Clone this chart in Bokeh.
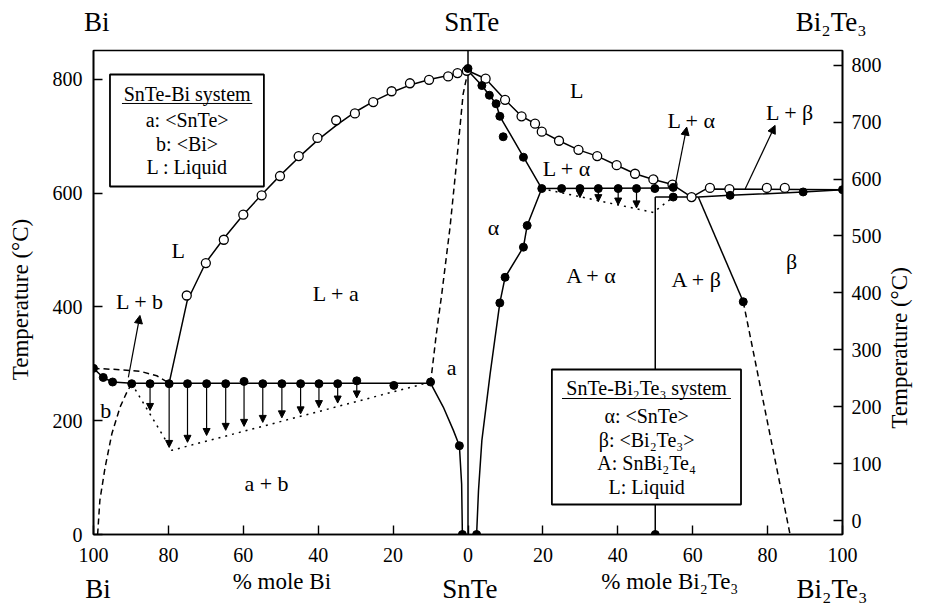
import numpy as np
from bokeh.plotting import figure
from bokeh.models import (Range1d, LinearAxis, FixedTicker, Arrow,
                          NormalHead, ColumnDataSource)
from bokeh.embed import file_html
from bokeh.resources import INLINE
from bokeh.core.properties import value

FONT = "Liberation Serif"

# x axis: negative side = % mole Bi (SnTe-Bi), positive side = % mole Bi2Te3
bottom_ticks = [-100, -80, -60, -40, -20, 0, 20, 40, 60, 80, 100]
bottom_tick_labels = ["100", "80", "60", "40", "20", "0", "20", "40", "60", "80", "100"]
left_ticks = [0, 200, 400, 600, 800]
right_ticks = [0, 100, 200, 300, 400, 500, 600, 700, 800]

# compound names and axis titles (placed along the composition axis)
top_names_x = [-99.1, 1.0, 97.0]
top_names = ["Bi", "SnTe", "Bi₂Te₃"]
bottom_names_x = [-98.8, 0.5, 97.2]
bottom_names = ["Bi", "SnTe", "Bi₂Te₃"]
axis_titles_x = [-49.7, 53.9]
axis_titles = ["% mole Bi", "% mole Bi₂Te₃"]
temp_title = "Temperature (°C)"

# ---------------- SnTe-Bi system ----------------
bi_liq_pts_x = [-75.1, -70.0, -65.2, -60.0, -55.1, -50.2, -45.2, -40.2, -35.2, -30.2,
                -25.3, -20.4, -15.5, -10.4, -5.3, -2.8, -0.3]
bi_liq_pts_y = [420, 477, 518, 562, 596, 630, 665, 697, 728, 740,
                760, 779, 793, 799, 805, 811, 815]
bi_liq_line_x = [-79.8, -75, -70, -65, -60, -55, -50, -45, -40, -35, -30, -25, -20, -15, -10, -5, 0]
bi_liq_line_y = [266, 410, 478, 522, 562, 598, 632, 664, 694, 720, 743, 762, 778, 791, 800, 807, 815]

bi_dots_x = [-100, -97.4, -94.9, -89.8, -84.9, -79.8, -74.9, -69.8, -64.7, -59.8, -54.8,
             -49.7, -44.7, -39.8, -34.8, -29.7, -19.8, -10.0, -2.3, -1.5, 0]
bi_dots_y = [292, 276, 268, 265, 265, 265, 265, 265, 265, 269, 265,
             265, 265, 265, 265, 270, 262, 268, 156, 0, 819]

bi_eut_x = [-100, -97.4, -94.9, -89.8, -10]
bi_eut_y = [292, 276, 268, 266, 266]
bi_liqb_x = [-100, -93.8, -87.6, -83.1, -79.8]
bi_liqb_y = [292, 290, 287, 279, 266]
bi_solb_x = [-98.9, -98.3, -96.9, -95.1, -92.9, -91.1, -89.8]
bi_solb_y = [0, 60, 118, 177, 224, 250, 265]
snte_sol_x = [-10, -8.5, -7.0, -4.8, -3.0, -1.3, 0]
snte_sol_y = [266, 350, 423, 540, 657, 774, 815]
snte_solv_x = [-10, -6.6, -3.9, -2.3, -1.7, -1.5]
snte_solv_y = [266, 224, 183, 156, 89, 0]
bi_dot_x = [-89.8, -79.1, -10]
bi_dot_y = [265, 148, 268]

bi_arr_x = [-84.9, -79.8, -74.9, -69.8, -64.7, -59.8, -54.8, -49.7, -44.7, -39.8, -34.8, -29.7]
bi_arr_top = [265, 265, 265, 265, 265, 265, 265, 265, 265, 265, 265, 265]
bi_arr_tip = [218, 153, 162, 174, 183, 190, 197, 205, 212, 223, 231, 240]

# ---------------- SnTe-Bi2Te3 system ----------------
bt_liq_x = [0, 4.7, 9.9, 14.3, 17.9, 19.7, 24.3, 29.5, 34.5, 39.7, 44.6, 49.5, 54.6, 59.7]
bt_liq_y = [815, 801, 764, 735, 722, 708, 692, 676, 665, 649, 634, 624, 615, 593]
bt_liqb_pts_x = [64.6, 69.8, 79.8, 84.6]
bt_liqb_pts_y = [609, 607, 609, 609]
bt_liqb_x = [59.7, 63.5, 100]
bt_liqb_y = [593, 607, 606]

bt_dots_x = [3.7, 5.7, 7.5, 8.5, 9.4, 14.8, 19.7, 25.0, 29.9, 34.8, 40.1, 45.0, 49.9, 54.8,
             54.8, 70.0, 89.5, 100, 15.8, 14.8, 9.9, 8.5, 2.3, 73.5, 50]
bt_dots_y = [789, 772, 757, 735, 699, 663, 608, 608, 608, 608, 608, 608, 608, 610,
             593, 596, 602, 606, 543, 505, 452, 407, 0, 409, 0]

bt_sol_x = [0, 3.7, 5.7, 7.5, 8.5, 19.7]
bt_sol_y = [815, 789, 772, 757, 735, 608]
bt_solv_x = [19.7, 15.8, 14.8, 9.9, 8.5, 5.9, 3.7, 2.8, 2.3]
bt_solv_y = [608, 543, 505, 452, 407, 282, 165, 77, 0]
bt_per_x = [19.7, 54.8]
bt_per_y = [608, 609]
bt_A_x = [50, 50]
bt_A_y = [0, 593]
bt_eut_x = [50, 61.5]
bt_eut_y = [593, 593]
bt_solb_x = [61.5, 70.0, 89.5, 100]
bt_solb_y = [593, 596, 602, 606]
bt_solvb_x = [61.5, 73.5]
bt_solvb_y = [593, 409]
bt_solvb_dash_x = [73.5, 86]
bt_solvb_dash_y = [409, 0]
bt_dot_x = [19.7, 49.5, 54.8]
bt_dot_y = [608, 566, 593]
bt_arr_x = [29.9, 34.8, 40.1, 45.0]
bt_arr_top = [608, 608, 608, 608]
bt_arr_tip = [592, 585, 579, 574]

snte_x = [0, 0]
snte_y = [0, 851]

# region labels
reg_text = ["L", "L + a", "L + b", "b", "a + b", "a",
            "L", "L + α", "L + α", "L + β", "α", "A + α", "A + β", "β"]
reg_x = [-77.4, -35.2, -87.6, -96.7, -53.8, -4.4,
         29.0, 26.4, 59.7, 86.0, 6.8, 33.0, 61.1, 86.4]
reg_y = [499, 423, 410, 218, 89, 294,
         780, 643, 728, 742, 540, 455, 449, 479]

# pointer arrows to labels
ptr_x0 = [-90.7, 55.3, 74.0]
ptr_y0 = [276, 613, 607]
ptr_x1 = [-87.6, 58.4, 82.0]
ptr_y1 = [385, 716, 719]

YMAX = 850.6

p = figure(output_backend="svg", toolbar_location=None,
           x_range=Range1d(-100, 100), y_range=Range1d(0, YMAX),
           min_border_left=93, min_border_right=83, min_border_top=50, min_border_bottom=69,
           background_fill_color="white", border_fill_color="white")
p.frame_width = 749
p.frame_height = 484
p.grid.visible = False
p.outline_line_color = "black"
p.outline_line_width = 1.6

p.extra_y_ranges = {"right": Range1d(-24.6, 826)}


def style_axis(ax, size="20px"):
    ax.axis_line_color = "black"
    ax.axis_line_width = 1.6
    ax.major_tick_in = 9
    ax.major_tick_out = 0
    ax.minor_tick_line_color = None
    ax.major_tick_line_width = 1.4
    ax.major_label_text_font = FONT
    ax.major_label_text_font_size = size
    ax.major_label_text_color = "black"


def text_axis(ax, size, standoff):
    ax.axis_line_color = None
    ax.major_tick_line_color = None
    ax.minor_tick_line_color = None
    ax.major_tick_in = 0
    ax.major_tick_out = 0
    ax.minor_tick_in = 0
    ax.minor_tick_out = 0
    ax.major_label_text_font = FONT
    ax.major_label_text_font_size = size
    ax.major_label_text_color = "black"
    ax.major_label_standoff = standoff


xa = p.xaxis[0]
xa.ticker = FixedTicker(ticks=bottom_ticks)
xa.major_label_overrides = {t: s for t, s in zip(bottom_ticks, bottom_tick_labels)}
style_axis(xa)
xa.major_label_standoff = 13

ya = p.yaxis[0]
ya.ticker = FixedTicker(ticks=left_ticks)
style_axis(ya)
ya.major_label_standoff = 11

ra = LinearAxis(y_range_name="right", ticker=FixedTicker(ticks=right_ticks))
style_axis(ra)
ra.major_label_standoff = 9
p.add_layout(ra, "right")

# text rows as tick-label-only axes
ax_top = LinearAxis(ticker=FixedTicker(ticks=top_names_x),
                    major_label_overrides={t: s for t, s in zip(top_names_x, top_names)})
text_axis(ax_top, "27px", 14)
p.add_layout(ax_top, "above")

ax_titles = LinearAxis(ticker=FixedTicker(ticks=axis_titles_x),
                       major_label_overrides={t: s for t, s in zip(axis_titles_x, axis_titles)})
text_axis(ax_titles, "23px", 4)
p.add_layout(ax_titles, "below")

ax_names = LinearAxis(ticker=FixedTicker(ticks=bottom_names_x),
                      major_label_overrides={t: s for t, s in zip(bottom_names_x, bottom_names)})
text_axis(ax_names, "27px", -23)
p.add_layout(ax_names, "below")

# temperature titles (left: centred on the tick; right: text starts at the tick)
temp_left_y = [413.0]
temp_right_y = [186.0]
ax_tl = LinearAxis(ticker=FixedTicker(ticks=temp_left_y),
                   major_label_overrides={temp_left_y[0]: temp_title})
text_axis(ax_tl, "23px", 16)
ax_tl.major_label_orientation = "vertical"
p.add_layout(ax_tl, "left")

ax_tr = LinearAxis(ticker=FixedTicker(ticks=temp_right_y),
                   major_label_overrides={temp_right_y[0]: temp_title})
text_axis(ax_tr, "23px", 15)
ax_tr.major_label_orientation = np.pi / 2
p.add_layout(ax_tr, "right")

LW = 1.5
# lines
p.line(snte_x, snte_y, color="black", line_width=LW)
p.line(bi_liq_line_x, bi_liq_line_y, color="black", line_width=LW)
p.line(bi_eut_x, bi_eut_y, color="black", line_width=LW)
p.line(bi_liqb_x, bi_liqb_y, color="black", line_width=LW, line_dash="6 4")
p.line(bi_solb_x, bi_solb_y, color="black", line_width=LW, line_dash="6 4")
p.line(snte_sol_x, snte_sol_y, color="black", line_width=LW, line_dash="6 4")
p.line(snte_solv_x, snte_solv_y, color="black", line_width=LW)
p.line(bi_dot_x, bi_dot_y, color="black", line_width=1.5, line_dash="2 5")

p.line(bt_liq_x, bt_liq_y, color="black", line_width=LW)
p.line(bt_liqb_x, bt_liqb_y, color="black", line_width=LW)
p.line(bt_sol_x, bt_sol_y, color="black", line_width=LW)
p.line(bt_solv_x, bt_solv_y, color="black", line_width=LW)
p.line(bt_per_x, bt_per_y, color="black", line_width=LW)
p.line(bt_A_x, bt_A_y, color="black", line_width=LW)
p.line(bt_eut_x, bt_eut_y, color="black", line_width=LW)
p.line(bt_solb_x, bt_solb_y, color="black", line_width=LW)
p.line(bt_solvb_x, bt_solvb_y, color="black", line_width=LW)
p.line(bt_solvb_dash_x, bt_solvb_dash_y, color="black", line_width=LW, line_dash="6 4")
p.line(bt_dot_x, bt_dot_y, color="black", line_width=1.5, line_dash="2 5")

# markers
p.scatter(bi_liq_pts_x, bi_liq_pts_y, marker="circle", size=9, fill_color="white",
          line_color="black", line_width=1.3)
p.scatter(bt_liq_x[1:], bt_liq_y[1:], marker="circle", size=9, fill_color="white",
          line_color="black", line_width=1.3)
p.scatter(bt_liqb_pts_x, bt_liqb_pts_y, marker="circle", size=9, fill_color="white",
          line_color="black", line_width=1.3)
p.scatter(bi_dots_x, bi_dots_y, marker="circle", size=8, color="black")
p.scatter(bt_dots_x, bt_dots_y, marker="circle", size=8, color="black")

# downward arrows
for xs, y0s, y1s in [(bi_arr_x, bi_arr_top, bi_arr_tip), (bt_arr_x, bt_arr_top, bt_arr_tip)]:
    src = ColumnDataSource(dict(x0=xs, y0=y0s, x1=xs, y1=y1s))
    p.add_layout(Arrow(source=src, x_start="x0", y_start="y0", x_end="x1", y_end="y1",
                       line_width=1.2, line_color="black",
                       end=NormalHead(size=7, fill_color="black", line_color="black")))
src = ColumnDataSource(dict(x0=ptr_x0, y0=ptr_y0, x1=ptr_x1, y1=ptr_y1))
p.add_layout(Arrow(source=src, x_start="x0", y_start="y0", x_end="x1", y_end="y1",
                   line_width=1.2, line_color="black",
                   end=NormalHead(size=8, fill_color="black", line_color="black")))

# region labels
p.text(reg_x, reg_y, text=reg_text, text_font=value(FONT), text_font_size="22px",
       text_align="center", text_baseline="middle", text_color="black")

# legend boxes
p.quad(left=[-95.6], right=[-54.5], bottom=[611.6], top=[808.4], fill_color="white",
       line_color="black", line_width=1.8)
p.text([-75.0] * 4, [775, 728, 687, 645],
       text=["SnTe-Bi system", "a: <SnTe>", "b: <Bi>", "L : Liquid"],
       text_font=value(FONT), text_font_size="20px", text_align="center",
       text_baseline="middle", text_color="black")
p.segment([-92.4], [757.5], [-57.6], [757.5], color="black", line_width=1)

p.quad(left=[22.4], right=[72.9], bottom=[52.7], top=[290], fill_color="white",
       line_color="black", line_width=1.8)
p.text([47.7] * 5, [256.6, 209, 165.2, 124.8, 82.6],
       text=["SnTe-Bi₂Te₃ system", "α: <SnTe>", "β: <Bi₂Te₃>", "A: SnBi₂Te₄", "L: Liquid"],
       text_font=value(FONT), text_font_size="20px", text_align="center",
       text_baseline="middle", text_color="black")
p.segment([25.1], [239], [70.2], [239], color="black", line_width=1)

open("out.html", "w").write(file_html(p, INLINE))
